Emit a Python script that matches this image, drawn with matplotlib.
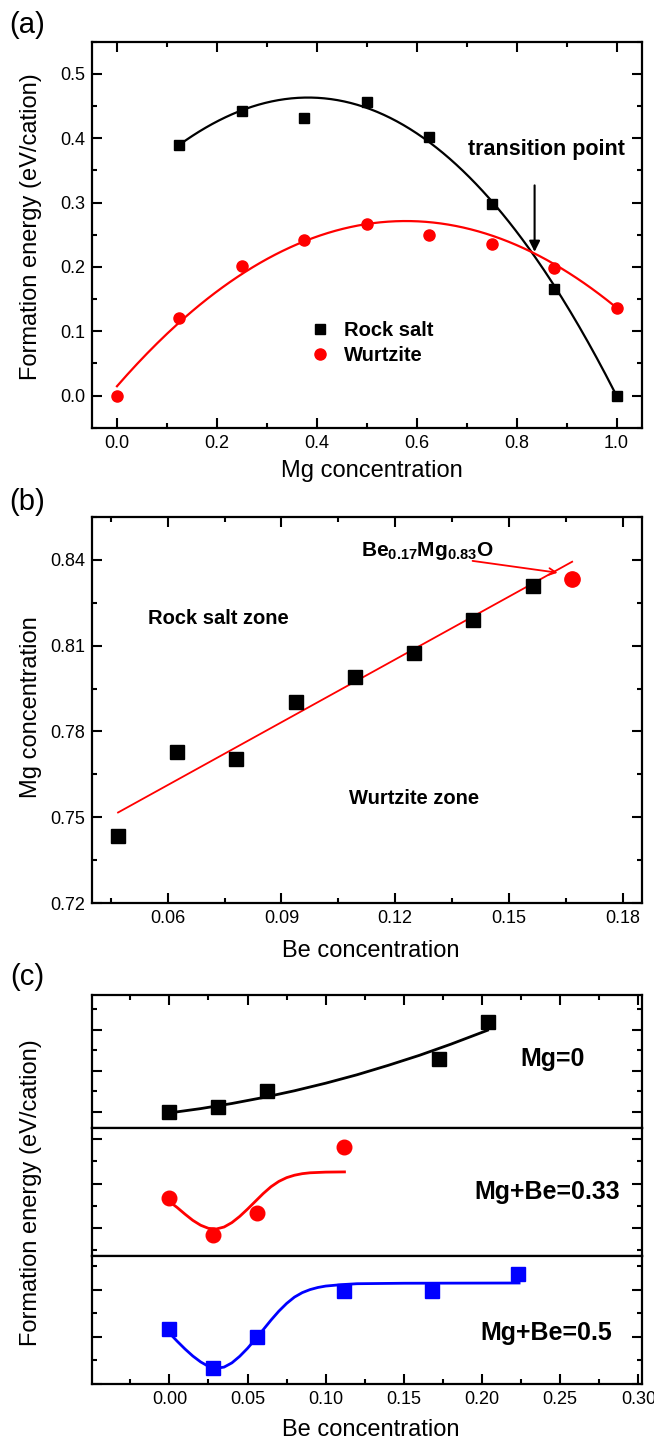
import numpy as np
import matplotlib
matplotlib.use('Agg')
import matplotlib.pyplot as plt
from matplotlib.ticker import MultipleLocator

plt.rcParams['font.family'] = ['Liberation Sans', 'DejaVu Sans']
plt.rcParams['mathtext.fontset'] = 'custom'
plt.rcParams['mathtext.rm'] = 'Liberation Sans'
plt.rcParams['mathtext.bf'] = 'Liberation Sans:bold'

# ---- panel (a): formation energy vs Mg concentration
rs_x = [0.125, 0.25, 0.375, 0.5, 0.625, 0.75, 0.875, 1.0]
rs_y = [0.389, 0.443, 0.432, 0.456, 0.402, 0.298, 0.166, 0.0]
wz_x = [0.0, 0.125, 0.25, 0.375, 0.5, 0.625, 0.75, 0.875, 1.0]
wz_y = [0.0, 0.120, 0.201, 0.241, 0.267, 0.250, 0.235, 0.199, 0.136]

# guide curves (smoothed with a low-order fit below)
rs_fit_x = [0.125, 0.1875, 0.25, 0.3125, 0.375, 0.4375, 0.5, 0.5625, 0.625,
            0.6875, 0.75, 0.8125, 0.875, 0.9375, 1.0]
rs_fit_y = [0.389, 0.4214, 0.4445, 0.458, 0.463, 0.4578, 0.445, 0.426, 0.397,
            0.354, 0.301, 0.2406, 0.171, 0.0906, 0.0]
wz_fit_x = [0.0, 0.0625, 0.125, 0.1875, 0.25, 0.3125, 0.375, 0.4375, 0.5,
            0.5625, 0.625, 0.6875, 0.75, 0.8125, 0.875, 0.9375, 1.0]
wz_fit_y = [0.0145, 0.0671, 0.1137, 0.1543, 0.1889, 0.2175, 0.2401, 0.2565,
            0.2667, 0.2703, 0.2688, 0.2618, 0.2492, 0.2300, 0.2047, 0.1735,
            0.1361]

# ---- panel (b): phase boundary
pb_be = [0.046875, 0.0625, 0.078125, 0.09375, 0.109375, 0.125, 0.140625, 0.15625]
pb_mg = [0.7436, 0.7730, 0.7704, 0.7903, 0.7991, 0.8073, 0.8190, 0.8307]
tp_be = [0.1667]
tp_mg = [0.8332]

# ---- panel (c): stacked formation energies (arbitrary units)
c1_x = [0.0, 0.03125, 0.0625, 0.1724, 0.204]
c1_y = [0.0, 0.25, 1.0, 2.59, 4.37]
c1_fit_x = [0.0, 0.02, 0.04, 0.06, 0.08, 0.10, 0.12, 0.14, 0.16, 0.18, 0.2035]
c1_fit_y = [-0.05, 0.16, 0.41, 0.70, 1.03, 1.40, 1.81, 2.27, 2.76, 3.30, 3.98]

c2_x = [0.0, 0.0281, 0.0562, 0.1116]
c2_y = [2.35, 0.66, 1.67, 4.64]
c2_fit_x = [0.0, 0.005, 0.010, 0.015, 0.020, 0.025, 0.030, 0.035, 0.040,
            0.045, 0.050, 0.055, 0.060, 0.065, 0.070, 0.075, 0.080, 0.085,
            0.090, 0.100, 0.112]
c2_fit_y = [2.19, 1.92, 1.62, 1.34, 1.12, 0.98, 0.95, 1.04, 1.24,
            1.52, 1.85, 2.20, 2.55, 2.86, 3.10, 3.27, 3.38, 3.45,
            3.49, 3.52, 3.53]

c3_x = [0.0, 0.0281, 0.0562, 0.1116, 0.1679, 0.2233]
c3_y = [1.32, -0.32, 0.99, 2.95, 2.95, 3.66]
c3_fit_x = [0.0, 0.005, 0.010, 0.015, 0.020, 0.025, 0.030, 0.035, 0.040,
            0.045, 0.050, 0.055, 0.060, 0.065, 0.070, 0.075, 0.080, 0.085,
            0.090, 0.095, 0.100, 0.110, 0.120, 0.150, 0.2237]
c3_fit_y = [1.15, 0.80, 0.47, 0.17, -0.08, -0.27, -0.35, -0.30, -0.12,
            0.16, 0.50, 0.89, 1.29, 1.70, 2.08, 2.41, 2.68, 2.87,
            3.00, 3.09, 3.15, 3.21, 3.25, 3.27, 3.28]

W, H = 654, 1440
fig = plt.figure(figsize=(W / 100, H / 100), dpi=100)


def box(top, bottom, left=92, right=641.5):
    return [left / W, 1 - bottom / H, (right - left) / W, (bottom - top) / H]


def style(ax, top=True, bottom=True):
    ax.tick_params(which='both', direction='in', top=top, bottom=bottom,
                   left=True, right=True, width=1.5, labelsize=13, pad=5)
    ax.tick_params(which='major', length=7)
    ax.tick_params(which='minor', length=3.5)
    for s in ax.spines.values():
        s.set_linewidth(1.6)


def smooth(xs, ys, deg):
    # low-order polynomial through the read guide points
    p = np.polyfit(xs, ys, deg)
    xx = np.linspace(xs[0], xs[-1], 200)
    return xx, np.polyval(p, xx)


# (a)
ax = fig.add_axes(box(41.7, 427.7))
ax.plot(*smooth(rs_fit_x, rs_fit_y, 4), color='black', lw=1.6)
ax.plot(*smooth(wz_fit_x, wz_fit_y, 3), color='red', lw=1.6)
ax.plot(rs_x, rs_y, 's', color='black', ms=7.5, label='Rock salt')
ax.plot(wz_x, wz_y, 'o', color='red', ms=8, label='Wurtzite')
ax.set_xlim(-0.05, 1.05)
ax.set_ylim(-0.05, 0.55)
ax.xaxis.set_major_locator(MultipleLocator(0.2))
ax.xaxis.set_minor_locator(MultipleLocator(0.1))
ax.yaxis.set_major_locator(MultipleLocator(0.1))
ax.yaxis.set_minor_locator(MultipleLocator(0.05))
style(ax)
ax.legend(loc='upper left', bbox_to_anchor=(0.378, 0.298), frameon=False,
          prop={'weight': 'bold', 'size': 14.5}, handletextpad=0.6,
          labelspacing=0.3, handlelength=1.2, borderaxespad=0)
ax.text(0.703, 0.382, 'transition point', fontsize=15.5, fontweight='bold',
        va='center', ha='left')
ax.annotate('', xy=(0.836, 0.219), xytext=(0.836, 0.331),
            arrowprops=dict(arrowstyle='-|>', color='black', lw=1.5,
                            mutation_scale=16))
fig.text(27 / W, 1 - 25 / H, '(a)', fontsize=21, ha='center', va='center')
fig.text(31 / W, 1 - 227 / H, 'Formation energy (eV/cation)', fontsize=17,
         rotation=90, ha='center', va='center')
fig.text(372 / W, 1 - 471 / H, 'Mg concentration', fontsize=17,
         ha='center', va='center')

# (b)
ax = fig.add_axes(box(516.7, 903.3))
p_b = np.polyfit(pb_be, pb_mg, 1)
xb = np.linspace(pb_be[0], tp_be[0], 50)
ax.plot(xb, np.polyval(p_b, xb), color='red', lw=1.3)
ax.plot(pb_be, pb_mg, 's', color='black', ms=9.5)
ax.plot(tp_be, tp_mg, 'o', color='red', ms=11)
ax.set_xlim(0.04, 0.185)
ax.set_ylim(0.72, 0.855)
ax.xaxis.set_major_locator(MultipleLocator(0.03))
ax.xaxis.set_minor_locator(MultipleLocator(0.015))
ax.yaxis.set_major_locator(MultipleLocator(0.03))
ax.yaxis.set_minor_locator(MultipleLocator(0.015))
style(ax)
ax.text(0.1109, 0.8429, r'Be$_{\mathbf{0.17}}$Mg$_{\mathbf{0.83}}$O',
        fontsize=15, fontweight='bold', va='center', ha='left')
ax.annotate('', xy=(0.1636, 0.8353), xytext=(0.1397, 0.8397),
            arrowprops=dict(arrowstyle='->', color='red', lw=1.3,
                            mutation_scale=12))
ax.text(0.0547, 0.8196, 'Rock salt zone', fontsize=14.5, fontweight='bold',
        va='center', ha='left')
ax.text(0.1078, 0.7565, 'Wurtzite zone', fontsize=14.5, fontweight='bold',
        va='center', ha='left')
fig.text(27 / W, 1 - 502 / H, '(b)', fontsize=21, ha='center', va='center')
fig.text(31 / W, 1 - 707 / H, 'Mg concentration', fontsize=17,
         rotation=90, ha='center', va='center')
fig.text(371 / W, 1 - 951 / H, 'Be concentration', fontsize=17,
         ha='center', va='center')

# (c)
ax1 = fig.add_axes(box(995, 1128.3))
ax2 = fig.add_axes(box(1128.3, 1256), sharex=ax1)
ax3 = fig.add_axes(box(1256, 1384), sharex=ax1)

ax1.plot(c1_fit_x, c1_fit_y, color='black', lw=2)
ax1.plot(c1_x, c1_y, 's', color='black', ms=10)
ax1.set_ylim(-0.8, 5.7)
ax1.yaxis.set_major_locator(MultipleLocator(2))
ax1.yaxis.set_minor_locator(MultipleLocator(1))

ax2.plot(c2_fit_x, c2_fit_y, color='red', lw=2)
ax2.plot(c2_x, c2_y, 'o', color='red', ms=10.5)
ax2.set_ylim(-0.27, 5.5)
ax2.yaxis.set_major_locator(MultipleLocator(2, offset=1))
ax2.yaxis.set_minor_locator(MultipleLocator(1))

ax3.plot(c3_fit_x, c3_fit_y, color='blue', lw=2)
ax3.plot(c3_x, c3_y, 's', color='blue', ms=10)
ax3.set_ylim(-1.02, 4.43)
ax3.yaxis.set_major_locator(MultipleLocator(2, offset=1))
ax3.yaxis.set_minor_locator(MultipleLocator(1))

ax3.set_xlim(-0.0495, 0.302)
ax3.xaxis.set_major_locator(MultipleLocator(0.05))
ax3.xaxis.set_minor_locator(MultipleLocator(0.025))

style(ax1, top=True, bottom=False)
style(ax2, top=False, bottom=False)
style(ax3, top=False, bottom=True)
for a in (ax1, ax2, ax3):
    a.tick_params(labelleft=False)
ax1.tick_params(labelbottom=False, labeltop=False)
ax2.tick_params(labelbottom=False)
ax3.xaxis.set_major_formatter(plt.FormatStrFormatter('%.2f'))

ax1.text(0.838, 0.52, 'Mg=0', transform=ax1.transAxes, fontsize=18,
         fontweight='bold', ha='center', va='center')
ax2.text(0.828, 0.50, 'Mg+Be=0.33', transform=ax2.transAxes, fontsize=18,
         fontweight='bold', ha='center', va='center')
ax3.text(0.826, 0.40, 'Mg+Be=0.5', transform=ax3.transAxes, fontsize=18,
         fontweight='bold', ha='center', va='center')

fig.text(27 / W, 1 - 977 / H, '(c)', fontsize=21, ha='center', va='center')
fig.text(31 / W, 1 - 1193 / H, 'Formation energy (eV/cation)', fontsize=17,
         rotation=90, ha='center', va='center')
fig.text(371 / W, 1 - 1430 / H, 'Be concentration', fontsize=17,
         ha='center', va='center')

fig.savefig('out.png', dpi=100)
